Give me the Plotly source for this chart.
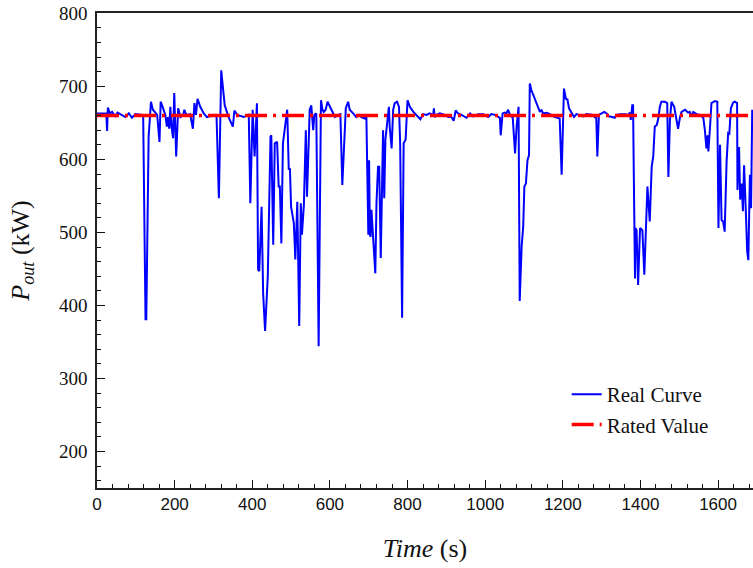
import plotly.graph_objects as go

time_s = [0, 24, 26, 28, 33, 39, 47, 53, 73, 82, 90, 99, 116, 119, 125, 127, 133, 139, 144, 155,
          161, 164, 169, 176, 180, 183, 186, 189, 192, 196, 199, 204, 209, 215, 222, 225, 230, 240,
          247, 251, 255, 259, 266, 275, 283, 292, 305, 308, 314, 320, 325, 329, 339, 348, 350, 354,
          361, 378, 391, 395, 401, 406, 412, 415, 418, 424, 428, 433, 440, 447, 449, 454, 458, 464,
          468, 471, 475, 479, 490, 494, 497, 500, 507, 511, 516, 521, 525, 528, 533, 538, 541, 548,
          552, 557, 560, 565, 571, 577,
          581, 584, 589, 594, 600, 607, 613, 621, 627, 632, 641, 647, 651, 660, 668, 675, 681, 690,
          694, 699, 701, 703, 705, 707, 711, 714, 717, 720, 724, 727, 731, 737, 740, 743, 752, 754,
          759, 763, 767, 773, 778, 781, 784, 786, 790, 795, 800, 806, 815, 827, 833, 840, 849, 857,
          866, 868, 870, 875, 883, 896, 905, 913, 919, 924, 930, 939, 952, 961, 969, 982, 995, 1008,
          1016, 1025, 1034, 1038, 1040, 1045, 1051, 1055, 1059, 1064, 1071, 1077, 1081, 1086, 1089,
          1094, 1098, 1101, 1105, 1109, 1113, 1115, 1119, 1124, 1128,
          1137, 1141, 1145, 1149, 1158, 1167, 1175, 1188, 1192, 1197, 1203, 1208, 1212, 1216, 1222,
          1229, 1235, 1244, 1253, 1261, 1270, 1278, 1283, 1286, 1289, 1293, 1300, 1307, 1313, 1319,
          1327, 1334, 1338, 1347, 1360, 1369, 1373, 1375, 1379, 1381, 1383, 1386, 1387, 1390, 1394,
          1399, 1405, 1410, 1418, 1424, 1429, 1433, 1437, 1442, 1446, 1450, 1454, 1463, 1469, 1472,
          1476, 1480, 1487, 1493, 1497, 1502, 1506, 1515, 1523, 1527, 1532, 1536, 1545, 1553, 1562,
          1566, 1570, 1573, 1575, 1579, 1583, 1592, 1598, 1601, 1605, 1609, 1613, 1617, 1622, 1626,
          1629, 1633, 1639, 1643, 1649, 1650, 1654, 1657, 1661, 1664, 1667, 1672, 1675, 1678, 1682,
          1685, 1688]

p_out_kw = [663, 663, 639, 671, 663, 665, 659, 664, 658, 663, 657, 662, 661, 658, 381, 381, 631, 679, 668, 661,
            624, 679, 672, 661, 645, 658, 642, 672, 645, 629, 691, 604, 670, 658, 661, 668, 661, 662,
            642, 677, 661, 683, 672, 663, 658, 659, 661, 658, 547, 722, 693, 674, 658, 647, 645, 667,
            661, 658, 661, 540, 668, 604, 677, 449, 447, 535, 417, 365, 440, 631, 633, 483, 622, 624,
            563, 563, 485, 622, 668, 586, 588, 535, 513, 463, 542, 372, 540, 497, 538, 640, 549, 668,
            674, 640, 661, 663, 344, 681,
            668, 665, 668, 679, 672, 665, 658, 661, 662, 565, 670, 679, 668, 663, 658, 661, 658, 656,
            658, 497, 599, 497, 494, 531, 494, 463, 444, 540, 590, 590, 465, 640, 547, 627, 672, 645,
            615, 668, 677, 679, 672, 622, 481, 383, 622, 627, 681, 672, 665, 659, 655, 662, 661, 663,
            661, 670, 658, 661, 663, 661, 658, 658, 653, 667, 663, 661, 657, 663, 659, 662, 662, 658,
            662, 661, 658, 657, 633, 663, 664, 663, 668, 661, 657, 608, 645, 672, 406,
            481, 508, 563, 567, 599, 606, 704, 695, 688, 683,
            672, 665, 668, 663, 664, 662, 659, 657, 656, 579, 697, 683, 682, 670, 664,
            658, 662, 661, 659, 662, 662, 661, 657, 661, 604, 661, 663, 665, 663, 659,
            658, 657, 661, 662, 662, 661, 664, 654, 674, 674, 576, 437, 506, 503, 428,
            506, 503, 442, 563, 515, 590, 604, 645, 647, 656, 672, 679, 679, 677, 576,
            654, 679, 672, 654, 642, 658, 665, 668, 664, 665, 659, 665, 662, 661, 657,
            640, 615, 633, 611, 642, 677, 680, 679, 506, 620, 517, 515, 501, 597, 636,
            635, 670, 678, 679, 677, 558, 617, 545, 567, 529, 592, 522, 474, 462, 579,
            533, 668]

rated_time = [0, 1690]
rated_kw = [660, 660]

x_ticks = [0, 200, 400, 600, 800, 1000, 1200, 1400, 1600]
y_ticks = [200, 300, 400, 500, 600, 700, 800]

fig = go.Figure()
fig.add_trace(go.Scatter(x=time_s, y=p_out_kw, mode="lines", name="Real Curve",
                         line=dict(color="#0000ff", width=2)))
fig.add_trace(go.Scatter(x=rated_time, y=rated_kw, mode="lines", name="Rated Value",
                         line=dict(color="#ff0000", width=3.5, dash="22px,6px,3px,6px")))

fig.update_layout(
    width=753, height=568,
    margin=dict(l=97, r=0, t=13, b=80),
    paper_bgcolor="white", plot_bgcolor="white",
    showlegend=True,
    legend=dict(x=0.716, y=0.24, xanchor="left", yanchor="top",
                font=dict(family="Liberation Serif", size=21, color="#111"),
                bgcolor="rgba(0,0,0,0)", tracegroupgap=4),
    xaxis=dict(range=[0, 1690], tickvals=x_ticks, ticks="inside", ticklen=8, tickwidth=1.3,
               tickcolor="#111", showline=True, linecolor="#222", linewidth=1.6, mirror=True,
               showgrid=False, zeroline=False,
               minor=dict(dtick=40, ticks="inside", ticklen=4, tickcolor="#111", showgrid=False),
               tickfont=dict(family="Liberation Sans", size=17, color="#111"),
               title=dict(text="<i>Time</i> (s)", standoff=26,
                          font=dict(family="Liberation Serif", size=26, color="#111"))),
    yaxis=dict(range=[150, 800.5], tickvals=y_ticks, ticks="inside", ticklen=8, tickwidth=1.3,
               tickcolor="#111", showline=True, linecolor="#222", linewidth=1.6,
               showgrid=False, zeroline=False, ticklabelstandoff=4,
               minor=dict(dtick=20, ticks="inside", ticklen=4, tickcolor="#111", showgrid=False),
               tickfont=dict(family="Times New Roman, Liberation Serif, serif", size=19, color="#111"),
               title=dict(text="<i>P</i><sub><i>out</i></sub> (kW)", standoff=22,
                          font=dict(family="Liberation Serif", size=26, color="#111"))),
)

fig.write_html("out.html", config={"displayModeBar": False},
               post_script="document.body.style.margin='0';document.body.style.overflow='hidden';")
